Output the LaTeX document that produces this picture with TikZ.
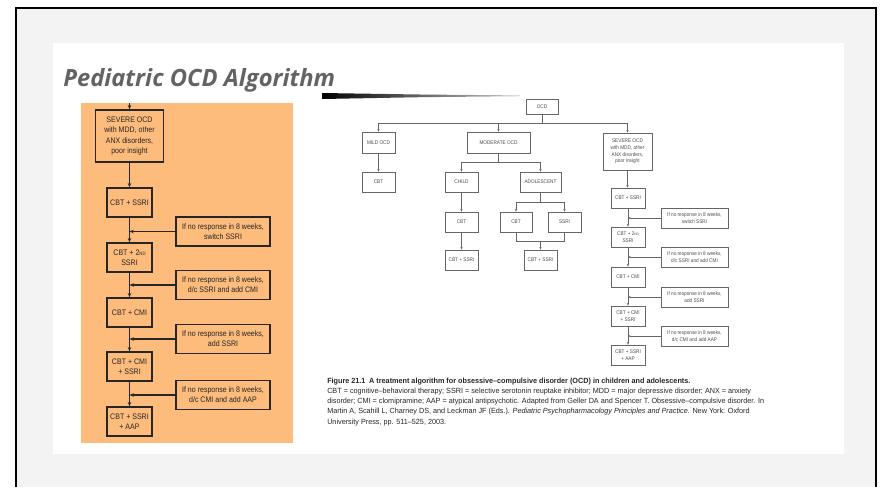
\documentclass[tikz,border=0pt]{standalone}
\usepackage{fontspec}
\setmainfont{Liberation Sans}
\newfontfamily\narrowfont{Liberation Sans}[FakeStretch=0.88]
\newfontfamily\capnarrow{Liberation Sans}[FakeStretch=0.97]
\newfontfamily\titlefont{Open Sans}
\usetikzlibrary{arrows.meta}
\definecolor{bgrey}{HTML}{F2F3F2}
\definecolor{peach}{HTML}{FDBB7C}
\definecolor{titlegrey}{HTML}{636363}
\newcommand\lfont{\narrowfont\fontsize{6}{7.6}\selectfont}
\newcommand\lsmall{\fontsize{3.6}{4}\selectfont}
\newcommand\rfont{\narrowfont\fontsize{4}{5}\selectfont}
\newcommand\rsmall{\fontsize{2.6}{3}\selectfont}
\newcommand\capfont{\capnarrow\fontsize{5.6}{7.7}\selectfont}
\tikzset{
  wh/.style 2 args={minimum width=#1*0.75pt, minimum height=#2*0.75pt},
  lbox/.style={draw=black!85, line width=1.1pt, inner sep=0pt, align=center, text=black!85, font=\lfont},
  larr/.style={draw=black!85, line width=1pt, -{Stealth[length=3.2pt,width=2.6pt]}},
  rbox/.style={draw=black!60, line width=0.5pt, inner sep=0pt, align=center, text=black!70, font=\rfont},
  rline/.style={draw=black!60, line width=0.5pt},
  rarr/.style={draw=black!60, line width=0.5pt, -{Stealth[length=2pt,width=1.6pt]}}
}
\begin{document}
\begin{tikzpicture}[x=0.75pt,y=-0.75pt]
\useasboundingbox (0,0) rectangle (882,487);
\fill[white] (0,0) rectangle (882,487);
\fill[bgrey] (16,8) rectangle (876,487);
\draw[line width=2pt] (16,487) -- (16,8) -- (876,8) -- (876,487);
\fill[white] (53,43) rectangle (844,454);
\node[anchor=base west, inner sep=0pt, text=titlegrey, font=\titlefont\bfseries\itshape\fontsize{17.8}{20}\selectfont] (title) at (63,86) {Pediatric OCD Algorithm};
\shade[left color=black, right color=black!20] (322,93) -- (420,94.5) -- (520,95.4) -- (520,96.2) -- (420,97.2) -- (322,99) -- cycle;
\fill[peach] (81,103) rectangle (293,443);

% ---------- left flowchart ----------
\coordinate (ltop) at (129.5,103);
\node[lbox, wh={68}{52}] (lsev) at (129.5,136) {SEVERE OCD\\with MDD, other\\ANX disorders,\\poor insight};
\node[lbox, wh={45}{29}] (l1) at (129.5,202.5) {CBT + SSRI};
\node[lbox, wh={45}{29}] (l2) at (129.5,257.5) {CBT + 2{\lsmall ND}\\SSRI};
\node[lbox, wh={45}{29}] (l3) at (129.5,312.5) {CBT + CMI};
\node[lbox, wh={45}{29}] (l4) at (129.5,366.5) {CBT + CMI\\+ SSRI};
\node[lbox, wh={45}{29}] (l5) at (129.5,421.5) {CBT + SSRI\\+ AAP};
\node[lbox, wh={94}{29}] (ls1) at (223,231.5) {If no response in 8 weeks,\\switch SSRI};
\node[lbox, wh={94}{29}] (ls2) at (223,285) {If no response in 8 weeks,\\d/c SSRI and add CMI};
\node[lbox, wh={94}{29}] (ls3) at (223,339) {If no response in 8 weeks,\\add SSRI};
\node[lbox, wh={94}{29}] (ls4) at (223,395) {If no response in 8 weeks,\\d/c CMI and add AAP};
\draw[larr] (ltop) -- (lsev);
\draw[larr] (lsev) -- (l1);
\draw[larr] (l1) -- (l2);
\draw[larr] (l2) -- (l3);
\draw[larr] (l3) -- (l4);
\draw[larr] (l4) -- (l5);
\draw[larr] (ls1.west) -- (ls1.west -| l1.south);
\draw[larr] (ls2.west) -- (ls2.west -| l1.south);
\draw[larr] (ls3.west) -- (ls3.west -| l1.south);
\draw[larr] (ls4.west) -- (ls4.west -| l1.south);

% ---------- right flowchart ----------
\node[rbox, wh={32}{15}] (ocd) at (542,106.5) {OCD};
\node[rbox, wh={33}{21}] (mild) at (378.5,142.5) {MILD OCD};
\node[rbox, wh={63}{21}] (mod) at (498.5,142.5) {MODERATE OCD};
\node[rbox, wh={49}{37}] (rsev) at (627.5,151.5) {SEVERE OCD\\with MDD, other\\ANX disorders,\\poor insight};
\node[rbox, wh={33}{20}] (mcbt) at (378.5,182) {CBT};
\node[rbox, wh={33}{20}] (child) at (461.5,182) {CHILD};
\node[rbox, wh={41}{20}] (adol) at (540.5,182) {ADOLESCENT};
\node[rbox, wh={33}{20}] (ccbt) at (461.5,222) {CBT};
\node[rbox, wh={32}{20}] (acbt) at (516,222) {CBT};
\node[rbox, wh={33}{20}] (assri) at (564.5,222) {SSRI};
\node[rbox, wh={33}{20}] (ccs) at (461.5,260) {CBT + SSRI};
\node[rbox, wh={33}{20}] (acs) at (540.5,260) {CBT + SSRI};
\coordinate (rj1) at (542,123);
\coordinate (rj2) at (498.5,162);
\coordinate (rj3) at (540.5,202);
\coordinate (rj4) at (540.5,241);
\draw[rline] (ocd) -- (ocd.south |- rj1);
\draw[rline] (mild.north |- rj1) -- (rsev.north |- rj1);
\draw[rarr] (mild.north |- rj1) -- (mild);
\draw[rarr] (mod.north |- rj1) -- (mod);
\draw[rarr] (rsev.north |- rj1) -- (rsev);
\draw[rarr] (mild) -- (mcbt);
\draw[rline] (mod) -- (rj2);
\draw[rline] (child.north |- rj2) -- (adol.north |- rj2);
\draw[rarr] (child.north |- rj2) -- (child);
\draw[rarr] (adol.north |- rj2) -- (adol);
\draw[rarr] (child) -- (ccbt);
\draw[rarr] (ccbt) -- (ccs);
\draw[rline] (adol) -- (rj3);
\draw[rline] (acbt.north |- rj3) -- (assri.north |- rj3);
\draw[rarr] (acbt.north |- rj3) -- (acbt);
\draw[rarr] (assri.north |- rj3) -- (assri);
\draw[rline] (acbt) -- (acbt.south |- rj4) -- (assri.south |- rj4) -- (assri);
\draw[rarr] (rj4) -- (acs);

\node[rbox, wh={34}{20}] (r1) at (628,198) {CBT + SSRI};
\node[rbox, wh={34}{20}] (r2) at (628,237) {CBT + 2{\rsmall ND}\\SSRI};
\node[rbox, wh={34}{20}] (r3) at (628,277) {CBT + CMI};
\node[rbox, wh={34}{20}] (r4) at (628,316) {CBT + CMI\\+ SSRI};
\node[rbox, wh={34}{20}] (r5) at (628,355) {CBT + SSRI\\+ AAP};
\node[rbox, wh={67}{20}] (rs1) at (694.5,218) {If no response in 8 weeks,\\switch SSRI};
\node[rbox, wh={67}{20}] (rs2) at (694.5,257) {If no response in 8 weeks,\\d/c SSRI and add CMI};
\node[rbox, wh={67}{20}] (rs3) at (694.5,297) {If no response in 8 weeks,\\add SSRI};
\node[rbox, wh={67}{20}] (rs4) at (694.5,336) {If no response in 8 weeks,\\d/c CMI and add AAP};
\draw[rarr] (rsev) -- (r1.north -| rsev.south);
\draw[rarr] (r1) -- (r2);
\draw[rarr] (r2) -- (r3);
\draw[rarr] (r3) -- (r4);
\draw[rarr] (r4) -- (r5);
\draw[rarr] (rs1.west) -- (rs1.west -| r1.south);
\draw[rarr] (rs2.west) -- (rs2.west -| r1.south);
\draw[rarr] (rs3.west) -- (rs3.west -| r1.south);
\draw[rarr] (rs4.west) -- (rs4.west -| r1.south);

% ---------- caption ----------
\node[anchor=north west, inner sep=0pt, align=left, text=black!85, font=\capfont] (cap) at (327,377.5) {\textbf{Figure 21.1\enspace A treatment algorithm for obsessive–compulsive disorder (OCD) in children and adolescents.}\\
CBT = cognitive–behavioral therapy; SSRI = selective serotonin reuptake inhibitor; MDD = major depressive disorder; ANX = anxiety\\
disorder; CMI = clomipramine; AAP = atypical antipsychotic. Adapted from Geller DA and Spencer T. Obsessive–compulsive disorder. In\\
Martin A, Scahill L, Charney DS, and Leckman JF (Eds.). \textit{Pediatric Psychopharmacology Principles and Practice}. New York: Oxford\\
University Press, pp. 511–525, 2003.};
\end{tikzpicture}
\end{document}
